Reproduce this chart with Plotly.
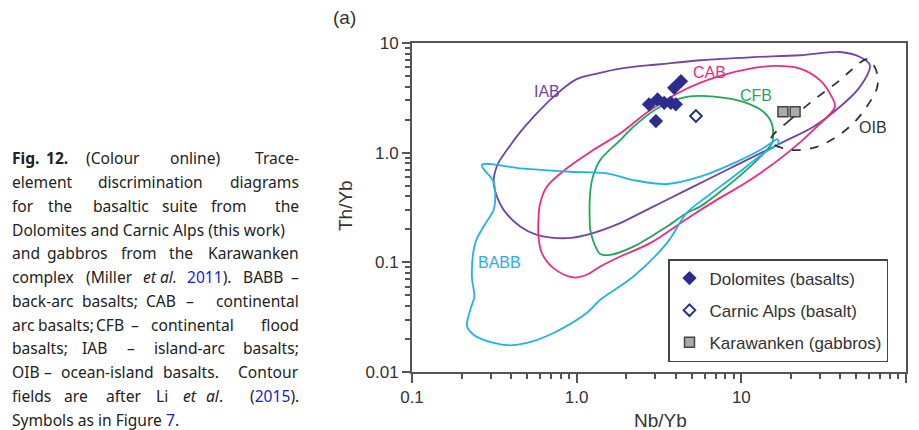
import math
import plotly.graph_objects as go

# ---------------- data ----------------
dolomites_x = [2.75, 3.10, 3.40, 3.73, 4.00, 3.91, 4.30, 3.03]
dolomites_y = [2.76, 3.06, 2.85, 2.85, 2.76, 3.90, 4.49, 1.94]
carnic_x = [5.30]
carnic_y = [2.16]
karawanken_x = [17.9, 21.2]
karawanken_y = [2.36, 2.36]

iab_x = [0.313, 0.330, 0.377, 0.454, 0.547, 0.723, 1.00, 1.33, 1.84, 3.21, 5.61, 11.3, 22.7, 39.7, 52.5, 60.4,
         52.5, 39.7, 27.4, 18.9, 13.0, 8.15, 5.11, 3.21, 2.21, 1.84, 1.15, 0.872, 0.574, 0.454, 0.360, 0.328, 0.313]
iab_y = [0.543, 0.771, 1.056, 1.54, 2.12, 3.23, 4.68, 5.27, 5.85, 6.40, 6.96, 7.41, 7.73, 8.28, 7.46, 6.27,
         3.98, 2.62, 1.72, 1.30, 0.985, 0.695, 0.490, 0.346, 0.261, 0.228, 0.178, 0.166, 0.178, 0.212, 0.301, 0.397, 0.543]

cab_x = [0.586, 0.600, 0.659, 0.872, 1.26, 1.84, 2.79, 4.45, 7.09, 11.3, 16.4, 22.7, 30.0, 35.4, 37.0, 28.7,
         18.9, 11.3, 7.09, 4.88, 2.79, 1.84, 1.39, 1.15, 0.956, 0.723, 0.615, 0.586, 0.586]
cab_y = [0.244, 0.346, 0.490, 0.720, 1.056, 1.50, 2.44, 3.71, 4.91, 5.85, 6.18, 5.85, 4.58, 3.23, 2.62, 1.72,
         0.985, 0.563, 0.371, 0.261, 0.1496, 0.113, 0.0916, 0.0770, 0.0728, 0.0885, 0.121, 0.174, 0.244]

cfb_x = [1.20, 1.20, 1.24, 1.39, 1.84, 2.21, 3.21, 4.66, 7.09, 10.3, 13.6, 15.3, 15.6, 15.3, 11.3, 8.15,
         5.61, 4.66, 3.53, 2.21, 1.60, 1.39, 1.33, 1.21, 1.20]
cfb_y = [0.244, 0.371, 0.563, 0.856, 1.30, 1.72, 2.62, 3.23, 3.23, 2.90, 2.36, 1.85, 1.40, 1.21, 0.745, 0.490,
         0.322, 0.282, 0.212, 0.139, 0.117, 0.119, 0.130, 0.198, 0.244]

babb_x = [0.266, 0.454, 0.913, 1.52, 2.21, 3.53, 5.61, 8.94, 13.0, 15.6, 16.5, 16.8, 13.6, 8.94, 6.17, 4.66,
          3.53, 2.21, 1.39, 1.15, 0.723, 0.499, 0.395, 0.313, 0.2365, 0.216, 0.226, 0.239, 0.231, 0.242,
          0.272, 0.313, 0.320, 0.313, 0.266]
babb_y = [0.771, 0.720, 0.670, 0.648, 0.563, 0.518, 0.604, 0.799, 1.056, 1.26, 1.33, 1.22, 0.985, 0.604, 0.397, 0.282,
          0.1496, 0.0743, 0.0456, 0.0345, 0.0227, 0.0184, 0.0175, 0.0184, 0.0219, 0.0261, 0.0370, 0.0489, 0.0743, 0.1496,
          0.212, 0.301, 0.371, 0.543, 0.771]

oib_x = [15.3, 19.7, 27.4, 39.7, 51.1, 57.7, 63.0, 67.1, 66.6, 57.7, 47.8, 37.9, 28.7, 20.7, 17.2, 15.1, 15.3]
oib_y = [1.40, 1.98, 3.01, 4.58, 6.40, 7.11, 6.40, 5.08, 3.87, 2.62, 1.85, 1.40, 1.13, 1.056, 1.12, 1.25, 1.40]

field_labels = ["IAB", "CAB", "CFB", "OIB", "BABB"]
field_label_x = [0.66, 6.4, 12.3, 63.0, 0.34]
field_label_y = [3.6, 5.4, 3.3, 1.7, 0.100]

x_tickvals = [0.1, 1, 10, 100]
x_ticktext = ["0.1", "1.0", "10", "100"]
y_tickvals = [0.01, 0.1, 1, 10]
y_ticktext = ["0.01", "0.1", "1.0", "10"]

# ---------------- styles ----------------
C_IAB = "#7443a6"
C_CAB = "#ee2a86"
C_CFB = "#1fa85a"
C_BABB = "#22b2ea"
C_OIB = "#333333"
C_NAVY = "#2b2d8e"
AX = "#555555"
TXT = "#333333"
AXFONT = "Liberation Sans, Arial, sans-serif"

W, H = 919, 430
ML, MR, MT, MB = 412, 13, 43, 58
PW, PH = W - ML - MR, H - MT - MB


def px2paper(px, py):
    return (px - ML) / PW, (H - MB - py) / PH


fig = go.Figure()

for xs, ys, col, dash in [(iab_x, iab_y, C_IAB, "solid"), (cab_x, cab_y, C_CAB, "solid"),
                          (cfb_x, cfb_y, C_CFB, "solid"), (babb_x, babb_y, C_BABB, "solid"),
                          (oib_x, oib_y, C_OIB, "dash")]:
    fig.add_trace(go.Scatter(x=xs, y=ys, mode="lines", showlegend=False, hoverinfo="skip",
                             line=dict(color=col, width=1.8, shape="spline", smoothing=1.0, dash=dash)))

fig.add_trace(go.Scatter(x=dolomites_x, y=dolomites_y, mode="markers", name="Dolomites (basalts)",
                         legendgroup="a",
                         marker=dict(symbol="diamond", size=11, color=C_NAVY, line=dict(width=0))))
fig.add_trace(go.Scatter(x=carnic_x, y=carnic_y, mode="markers", name="Carnic Alps (basalt)",
                         legendgroup="b",
                         marker=dict(symbol="diamond-open", size=9, color=C_NAVY, line=dict(width=2, color=C_NAVY))))
fig.add_trace(go.Scatter(x=karawanken_x, y=karawanken_y, mode="markers", name="Karawanken (gabbros)",
                         legendgroup="c",
                         marker=dict(symbol="square", size=10, color="#aaaaaa", line=dict(width=1.5, color="#444444"))))

label_colors = [C_IAB, C_CAB, C_CFB, "#333333", C_BABB]
for t, lx, ly, c in zip(field_labels, field_label_x, field_label_y, label_colors):
    fig.add_annotation(x=math.log10(lx), y=math.log10(ly), text=t, showarrow=False,
                       font=dict(family=AXFONT, size=16, color=c), xanchor="center", yanchor="middle")

# axis titles and panel letter
ax, ay = px2paper(660, 420)
fig.add_annotation(x=ax, y=ay, xref="paper", yref="paper", text="Nb/Yb", showarrow=False,
                   font=dict(family=AXFONT, size=19, color=TXT), xanchor="center", yanchor="middle")
ax, ay = px2paper(345, 206)
fig.add_annotation(x=ax, y=ay, xref="paper", yref="paper", text="Th/Yb", showarrow=False, textangle=-90,
                   font=dict(family=AXFONT, size=19, color=TXT), xanchor="center", yanchor="middle")
ax, ay = px2paper(344, 18)
fig.add_annotation(x=ax, y=ay, xref="paper", yref="paper", text="(a)", showarrow=False,
                   font=dict(family=AXFONT, size=19, color=TXT), xanchor="center", yanchor="middle")

# ---------------- caption (justified by word placement: (text, left, right)) ----------------
BLUE = "#1a1ad0"
caption = [
    [("<b>Fig.</b>", 10.7, 36.7), ("<b>12.</b>", 43.3, 70), ("(Colour", 85, 140), ("online)", 170, 221.7),
     ("Trace-", 251.7, 300)],
    [("element", 10.7, 65), ("discrimination", 95, 206.7), ("diagrams", 227.7, 300)],
    [("for", 10.7, 33.3), ("the", 48.3, 71.7), ("basaltic", 90.7, 150.7), ("suite", 162.7, 196.7),
     ("from", 211.7, 246.7), ("the", 276, 300)],
    [("Dolomites and Carnic Alps (this work)", 10.7, None)],
    [("and", 10.7, 37.3), ("gabbros", 48.3, 106.7), ("from", 121.7, 156.7), ("the", 168.3, 193.3),
     ("Karawanken", 206, 300)],
    [("complex", 10.7, 70.7), ("(Miller", 85, 133.3), ("<i>et al.</i>", 139.3, 180),
     ("<span style='color:%s'>2011</span>).", 185, 233.3), ("BABB", 241.7, 283.3), ("–", 293.3, 300)],
    [("back-arc", 10.7, 76), ("basalts;", 87.3, 131.7), ("CAB", 144, 178.3), ("–", 186.7, 192.7),
     ("continental", 201.7, 300)],
    [("arc", 10.7, 31.7), ("basalts;", 43, 89), ("CFB", 94.5, 126), ("–", 131.5, 137.5),
     ("continental", 144, 240), ("flood", 254, 300)],
    [("basalts;", 10.7, 63.3), ("IAB", 81.7, 106.7), ("–", 127.7, 135), ("island-arc", 149.3, 230),
     ("basalts;", 248.3, 300)],
    [("OIB", 10.7, 36.7), ("–", 44.5, 51), ("ocean-island", 61.5, 152.5), ("basalts.", 162.7, 220),
     ("Contour", 236, 300)],
    [("fields", 10.7, 50), ("are", 62.7, 89.3), ("after", 106, 141.7), ("Li", 156, 168.3),
     ("<i>et</i>", 182.7, 196.7), ("<i>al</i>.", 205, 224), ("(<span style='color:%s'>2015</span>).", 246.7, 300)],
    [("Symbols as in Figure <span style='color:%s'>7</span>.", 10.7, None)],
]
CAPFONT = dict(family="Noto Sans, Open Sans, sans-serif", size=15.6, color="#222222")
for i, line in enumerate(caption):
    py = 158.3 + 23.75 * i
    n = len(line)
    for j, (word, x0, x1) in enumerate(line):
        if "%s" in word:
            word = word % BLUE
        if x1 is None or j == 0:
            px, anchor = x0, "left"
        elif j == n - 1:
            px, anchor = x1, "right"
        else:
            px, anchor = (x0 + x1) / 2, "center"
        xx, yy = px2paper(px, py)
        fig.add_annotation(x=xx, y=yy, xref="paper", yref="paper", text=word, showarrow=False,
                           font=CAPFONT, xanchor=anchor, yanchor="middle", align="left",
                           borderpad=0)

minor_vals = [m * 10 ** e for e in (-2, -1, 0, 1) for m in range(2, 10)]

axis_common = dict(type="log", showgrid=False, zeroline=False, showline=True, linecolor=AX, linewidth=2,
                   mirror=True, ticks="outside", tickcolor=AX, tickwidth=1.5,
                   tickfont=dict(family=AXFONT, size=17, color=TXT),
                   minor=dict(tickvals=minor_vals, ticks="outside", ticklen=5, tickcolor=AX, tickwidth=1.5,
                              showgrid=False))

fig.update_xaxes(range=[-1, 2], tickvals=x_tickvals, ticktext=x_ticktext, ticklen=9, **axis_common)
fig.update_yaxes(range=[-2, 1], tickvals=y_tickvals, ticktext=y_ticktext, ticklen=8, **axis_common)

lx0, ly0 = px2paper(668, 259)
fig.update_layout(
    width=W, height=H, margin=dict(l=ML, r=MR, t=MT, b=MB, pad=0),
    paper_bgcolor="white", plot_bgcolor="white",
    legend=dict(x=lx0, y=ly0, xanchor="left", yanchor="top", bgcolor="white", bordercolor="#444444",
                borderwidth=1.5, font=dict(family=AXFONT, size=17, color=TXT), tracegroupgap=7,
                itemsizing="trace"),
)

fig.write_html("out.html", config={"displayModeBar": False},
               post_script="document.body.style.margin='0px';document.body.style.overflow='hidden';")
